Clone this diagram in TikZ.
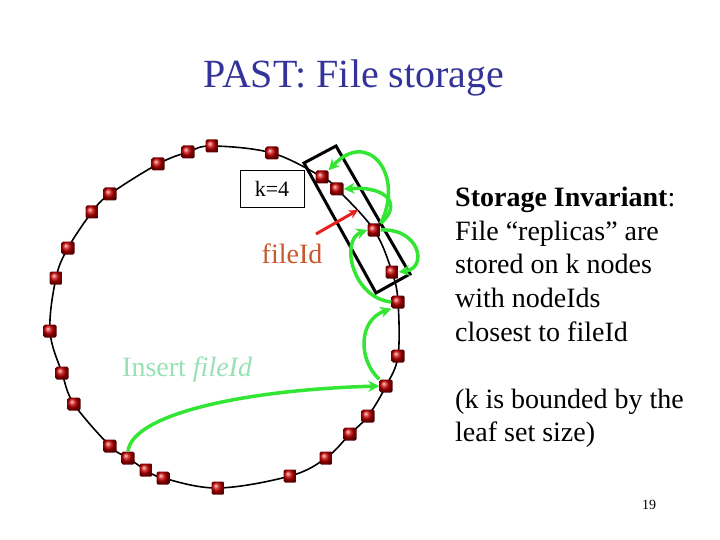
\documentclass[tikz,border=0pt]{standalone}
\usepackage{fontspec}
\setmainfont{Liberation Serif}
\usetikzlibrary{arrows.meta}
\definecolor{titleblue}{RGB}{51,51,153}
\definecolor{arrowgreen}{RGB}{51,230,51}
\definecolor{fidred}{RGB}{200,88,46}
\definecolor{mint}{RGB}{150,226,180}
\definecolor{arrred}{RGB}{232,33,30}
\begin{document}
\begin{tikzpicture}[x=1pt,y=-1pt,
  peer/.style={rectangle,rounded corners=1.5pt,minimum size=13pt,inner sep=0pt,ball color=red!80!black},
  garrow/.style={draw=arrowgreen,line width=3.5pt,-{Stealth[length=11pt,width=11pt]}},
  rarrow/.style={draw=arrred,line width=3pt,-{Stealth[length=9pt,width=9pt]}},
  ring/.style={draw=black,line width=1.6pt},
  groupbox/.style={draw=black,line width=3pt},
  kbox/.style={draw=black,line width=0.8pt,minimum width=64pt,minimum height=37pt,inner sep=0pt,font=\fontsize{22}{26}\selectfont},
  bodytext/.style={align=left,inner sep=0pt,font=\fontsize{28}{33.6}\selectfont}]
\useasboundingbox (0,0) rectangle (720,540);
\node[anchor=base,text=titleblue,font=\fontsize{40}{48}\selectfont] (title) at (354,88) {PAST: File storage};
% ring
\draw[ring] plot[smooth cycle,tension=0.6] coordinates {
 (212,146) (272,153) (322,177) (337,189) (374,230) (392,272) (398,302) (398,356) (386,386) (368,416) (350,434) (326,458) (290,476) (218,488) (163,478) (146,470) (128,458) (110,446) (74,404) (62,373) (50,331) (56,278) (68,248) (92,212) (110,194) (158,164) (188,152)};
% replica group box
\draw[groupbox] (304,163) -- (336,146) -- (410,274) -- (376,293) -- cycle;
% peers
\node[peer] (n1) at (212,146) {};
\node[peer] (n2) at (188,152) {};
\node[peer] (n3) at (158,164) {};
\node[peer] (n4) at (110,194) {};
\node[peer] (n5) at (92,212) {};
\node[peer] (n6) at (68,248) {};
\node[peer] (n7) at (56,278) {};
\node[peer] (n8) at (50,331) {};
\node[peer] (n9) at (62,373) {};
\node[peer] (n10) at (74,404) {};
\node[peer] (n11) at (110,446) {};
\node[peer] (n12) at (128,458) {};
\node[peer] (n13) at (146,470) {};
\node[peer] (n14) at (163,478) {};
\node[peer] (n15) at (218,488) {};
\node[peer] (n16) at (290,476) {};
\node[peer] (n17) at (326,458) {};
\node[peer] (n18) at (350,434) {};
\node[peer] (n19) at (368,416) {};
\node[peer] (n20) at (386,386) {};
\node[peer] (n21) at (398,356) {};
\node[peer] (n22) at (398,302) {};
\node[peer] (n23) at (392,272) {};
\node[peer] (n24) at (374,230) {};
\node[peer] (n25) at (337,189) {};
\node[peer] (n26) at (322,177) {};
\node[peer] (n27) at (272,153) {};
% labels
\node[kbox,fill=white] (k) at (272,188.5) {k=4};
\node[anchor=base,text=fidred,font=\fontsize{28}{33.6}\selectfont] (fid) at (292,263) {fileId};
\coordinate (ftail) at (316,234);
\coordinate (fhead) at (358,210);
\draw[rarrow] (ftail) -- (fhead);
\node[anchor=base west,text=mint,font=\fontsize{28}{33.6}\selectfont,inner sep=0pt] (ins) at (122,376) {Insert \textit{fileId}};
% green routing arrows
\draw[garrow] (n12.north) .. controls (132,415) and (240,390) .. (n20.west);
\draw[garrow] (n20.north west) .. controls (358,360) and (358,320) .. (n22.south west);
\draw[garrow] (n22.west) .. controls (352,298) and (340,240) .. (n24.west);
\draw[garrow] (n24.east) .. controls (420,228) and (428,268) .. (n23.east);
\draw[garrow] (n24.north east) .. controls (402,205) and (388,186) .. (n25.east);
\draw[garrow] (n24.north east) .. controls (405,175) and (368,128) .. (n26.north east);
% body text
\node[bodytext,anchor=north west] (inv) at (455,187) {\textbf{Storage Invariant}:\\
File “replicas” are\\
stored on k nodes\\
with nodeIds\\
closest to fileId\\[33.6pt]
(k is bounded by the\\
leaf set size)};
\node[anchor=base west,font=\fontsize{14}{17}\selectfont,inner sep=0pt] (pg) at (642,509) {19};
\end{tikzpicture}
\end{document}
